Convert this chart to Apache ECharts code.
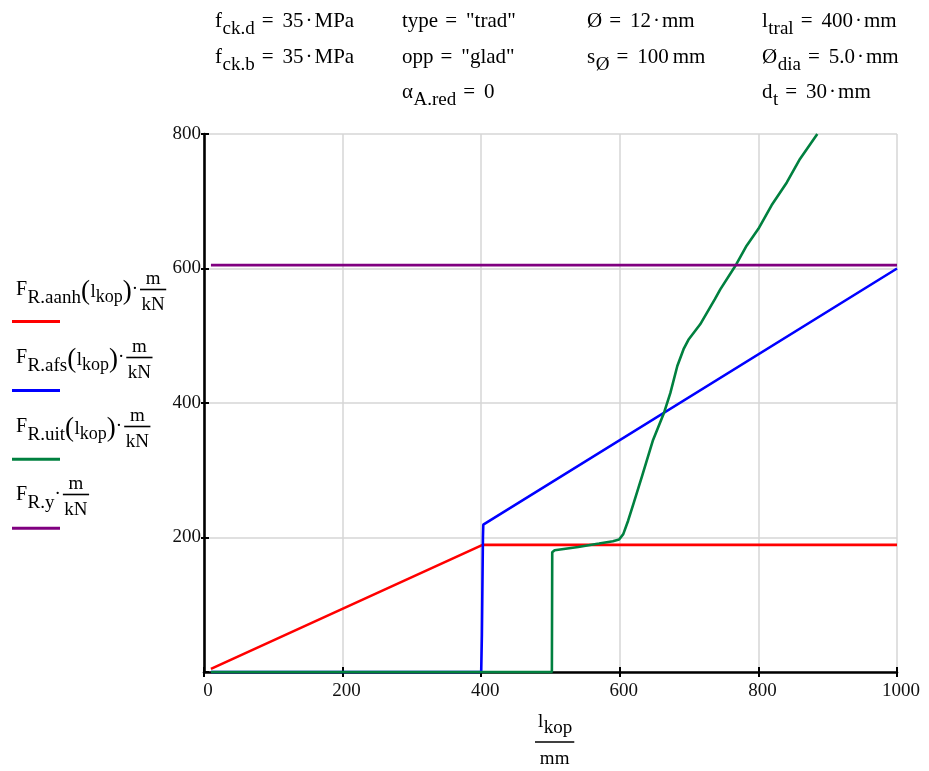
<!DOCTYPE html>
<html>
<head>
<meta charset="utf-8">
<script src="https://cdn.jsdelivr.net/npm/echarts@6/dist/echarts.min.js"></script>
<style>
  html, body { margin: 0; padding: 0; background: #ffffff; }
  #chart { width: 929px; height: 771px; }
</style>
</head>
<body>
<div id="chart"></div>
<script>
// Bond resistance per metre versus lap length l_kop (mm)

// axis ticks
const xTicks = [0, 200, 400, 600, 800, 1000];
const yTicks = [0, 200, 400, 600, 800];

// F_R.aanh(l_kop)
const aanhL = [10, 402, 1000];
const aanhF = [4.7, 189, 189];

// F_R.afs(l_kop)
const afsL = [10, 400, 401, 402.5, 403, 1000];
const afsF = [0, 0, 55, 200, 219, 600];

// F_R.uit(l_kop)
const uitL = [10, 502, 502.5, 506, 540, 570, 590, 599, 605, 612, 620, 632, 648, 664, 673, 683, 692, 699, 716, 737, 745, 768, 783, 800, 819, 841, 860, 885];
const uitF = [0, 0, 178, 181, 186, 191, 194.5, 197, 205, 225, 251, 291, 345, 386, 415, 455, 480, 494, 517, 554, 569, 606, 634, 659, 694, 728, 763, 800];

// F_R.y (constant)
const yL = [10, 1000];
const yF = [605, 605];

// input parameters shown above the plot
const paramNames = ['f', 'f', 'type', 'opp', 'α', 'Ø', 's', 'l', 'Ø', 'd'];
const paramSubs = ['ck.d', 'ck.b', '', '', 'A.red', '', 'Ø', 'tral', 'dia', 't'];
const paramValues = [
  ['35', '·', 'MPa'], ['35', '·', 'MPa'], ['"trad"'], ['"glad"'], ['0'],
  ['12', '·', 'mm'], ['100', 'mm'], ['400', '·', 'mm'], ['5.0', '·', 'mm'], ['30', '·', 'mm']
];
const paramCol = [0, 0, 1, 1, 1, 2, 2, 3, 3, 3];
const paramRow = [0, 1, 0, 1, 2, 0, 1, 0, 1, 2];

// legend entries
const legendSubs = ['R.aanh', 'R.afs', 'R.uit', 'R.y'];
const legendHasArg = [true, true, true, false];
const legendColors = ['#ff0000', '#0000ff', '#00803f', '#800080'];

const SERIF = '"Liberation Serif", "Times New Roman", serif';
const colX = [215, 402, 587, 762];
const rowBase = [29, 65, 100];

const measureCtx = document.createElement('canvas').getContext('2d');
function textWidth(t, size) {
  measureCtx.font = size + 'px ' + SERIF;
  return measureCtx.measureText(t).width;
}

// text element placed by its alphabetic baseline
function txt(t, x, baseline, size, align) {
  return {
    type: 'text',
    x: x,
    y: baseline - 0.3375 * size,
    silent: true,
    style: {
      text: t, fontSize: size, fontFamily: SERIF, fill: '#000',
      align: align || 'left', textAlign: align || 'left',
      verticalAlign: 'middle', textVerticalAlign: 'middle'
    }
  };
}

function hline(x1, x2, y, color, w) {
  return {
    type: 'line', silent: true,
    shape: { x1: x1, y1: y, x2: x2, y2: y },
    style: { stroke: color, lineWidth: w }
  };
}

// lays out a run of text pieces left to right
function run(x, base, parts, out) {
  let cx = x;
  parts.forEach(p => {
    cx += p.gap || 0;
    out.push(txt(p.t, cx, base + (p.dy || 0), p.size));
    cx += textWidth(p.t, p.size);
  });
  return cx;
}

function fraction(x, base, num, den, size, out) {
  const w = Math.max(textWidth(num, size), textWidth(den, size)) + 3;
  const cx = x + w / 2;
  out.push(txt(num, cx, base - 11, size, 'center'));
  out.push(hline(x, x + w, base - 6.5, '#000', 1.6));
  out.push(txt(den, cx, base + 15, size, 'center'));
  return x + w;
}

const graphics = [];

// parameter block
paramNames.forEach((n, i) => {
  const base = rowBase[paramRow[i]];
  const parts = [{ t: n, size: 21 }];
  if (paramSubs[i]) parts.push({ t: paramSubs[i], size: 19, dy: 6, gap: 0.5 });
  parts.push({ t: '=', size: 21, gap: 7 });
  paramValues[i].forEach((v, k) => {
    parts.push({ t: v, size: 21, gap: k === 0 ? 9 : (v === 'mm' && paramValues[i][k - 1] !== '·' ? 4 : 2) });
  });
  run(colX[paramCol[i]], base, parts, graphics);
});

// legend block
const legendBase = [296, 364, 433, 501];
const legendLineY = [321.5, 390.5, 459.3, 528.3];
legendSubs.forEach((s, i) => {
  const B = legendBase[i];
  const parts = [{ t: 'F', size: 20 }, { t: s, size: 19, dy: 8, gap: 0.5 }];
  if (legendHasArg[i]) {
    parts.push({ t: '(', size: 27, dy: 5, gap: 0 });
    parts.push({ t: 'l', size: 19, dy: 2, gap: 0.5 });
    parts.push({ t: 'kop', size: 18, dy: 7, gap: 0 });
    parts.push({ t: ')', size: 27, dy: 5, gap: 0 });
  }
  parts.push({ t: '·', size: 19, dy: -1, gap: 0 });
  const end = run(16, B, parts, graphics);
  fraction(end + 2, B, 'm', 'kN', 19, graphics);
  graphics.push(hline(12, 60, legendLineY[i], legendColors[i], 3));
});

// x axis title l_kop / mm
(function () {
  const out = [];
  const end = run(538, 728, [{ t: 'l', size: 19 }, { t: 'kop', size: 19, dy: 6, gap: 0.5 }], out);
  const x1 = 535, x2 = Math.max(end + 2, 573);
  out.push(hline(x1, x2, 742, '#000', 1.6));
  out.push(txt('mm', (x1 + x2) / 2, 765, 19, 'center'));
  out.forEach(e => graphics.push(e));
})();

function zip(a, b) { return a.map((v, i) => [v, b[i]]); }

const chart = echarts.init(document.getElementById('chart'), null, { renderer: 'canvas' });

const gridBox = { left: 204, top: 134, width: 693, height: 538 };
const labelStyle = { fontFamily: SERIF, fontSize: 19, color: '#111', formatter: v => String(v) };

function lineSeries(name, data, color) {
  return {
    name: name, type: 'line', data: data, xAxisIndex: 0, yAxisIndex: 0,
    symbol: 'none', showSymbol: false, clip: false,
    lineStyle: { color: color, width: 2.6 }, emphasis: { disabled: true }
  };
}

chart.setOption({
  animation: false,
  backgroundColor: '#ffffff',
  grid: [Object.assign({}, gridBox), Object.assign({}, gridBox)],
  xAxis: [
    {
      type: 'value', gridIndex: 0, min: xTicks[0], max: xTicks[xTicks.length - 1], interval: 200,
      axisLine: { show: true, lineStyle: { color: '#000', width: 2.6 } },
      axisTick: { show: true, length: 5, lineStyle: { color: '#000', width: 2 } },
      axisLabel: Object.assign({ margin: 10, padding: [0, 0, 0, 8] }, labelStyle),
      splitLine: { show: true, lineStyle: { color: '#d6d6d6', width: 1.5 } }
    },
    {
      type: 'value', gridIndex: 1, min: xTicks[0], max: xTicks[xTicks.length - 1], interval: 200,
      axisLine: { show: false },
      axisTick: { show: true, inside: true, length: 5, lineStyle: { color: '#000', width: 2 } },
      axisLabel: { show: false }, splitLine: { show: false }
    }
  ],
  yAxis: [
    {
      type: 'value', gridIndex: 0, min: yTicks[0], max: yTicks[yTicks.length - 1], interval: 200,
      axisLine: { show: true, lineStyle: { color: '#000', width: 2.6 } },
      axisTick: { show: true, length: 3, lineStyle: { color: '#000', width: 2 } },
      axisLabel: Object.assign({ margin: 3, showMinLabel: false }, labelStyle),
      splitLine: { show: true, lineStyle: { color: '#d6d6d6', width: 1.5 } }
    },
    {
      type: 'value', gridIndex: 1, min: yTicks[0], max: yTicks[yTicks.length - 1], interval: 200,
      axisLine: { show: false },
      axisTick: { show: true, inside: true, length: 5, lineStyle: { color: '#000', width: 2 } },
      axisLabel: { show: false }, splitLine: { show: false }
    }
  ],
  series: [
    lineSeries('F_R.aanh', zip(aanhL, aanhF), legendColors[0]),
    lineSeries('F_R.afs', zip(afsL, afsF), legendColors[1]),
    lineSeries('F_R.uit', zip(uitL, uitF), legendColors[2]),
    lineSeries('F_R.y', zip(yL, yF), legendColors[3])
  ],
  graphic: graphics
});
</script>
</body>
</html>
